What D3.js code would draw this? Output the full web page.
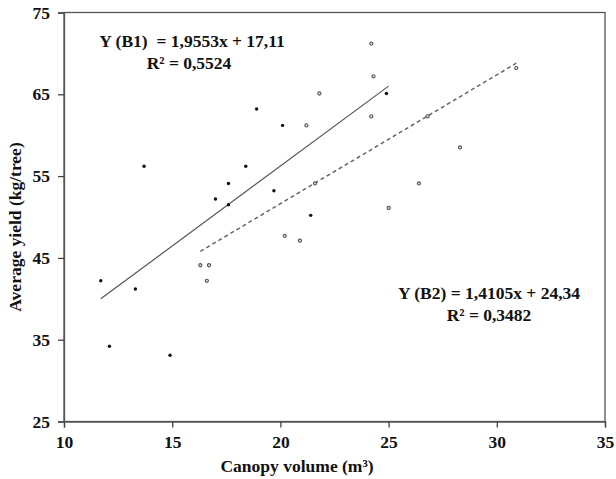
<!DOCTYPE html>
<html>
<head>
<meta charset="utf-8">
<script src="https://cdn.jsdelivr.net/npm/d3@7"></script>
<style>
  body { margin: 0; background: #fff; }
  text { font-family: "Liberation Serif", "Times New Roman", serif; font-weight: bold; fill: #111; }
</style>
</head>
<body>
<svg id="chart" width="616" height="479"></svg>
<script>
// B1 points (black dots)
const b1X = [11.7, 12.1, 13.3, 13.7, 14.9, 17.0, 17.6, 17.6, 18.4, 18.9, 19.7, 20.1, 21.4, 24.9];
const b1Y = [42.2, 34.2, 41.2, 56.2, 33.1, 52.2, 54.1, 51.5, 56.2, 63.2, 53.2, 61.2, 50.2, 65.1];
// B2 points (open circles)
const b2X = [16.3, 16.7, 16.6, 20.2, 20.9, 21.2, 21.6, 21.8, 24.2, 24.3, 24.2, 25.0, 26.4, 26.8, 28.3, 30.9];
const b2Y = [44.1, 44.1, 42.2, 47.7, 47.1, 61.2, 54.1, 65.1, 71.2, 67.2, 62.3, 51.1, 54.1, 62.3, 58.5, 68.2];
// trend lines as drawn (x range, y at ends)
const trendB1 = [[11.7, 40.0], [25.0, 66.0]];
const trendB2 = [[16.3, 45.8], [30.9, 68.8]];

const xTicks = [10, 15, 20, 25, 30, 35];
const yTicks = [25, 35, 45, 55, 65, 75];

const svg = d3.select("#chart");
const plotL = 64, plotR = 605, plotT = 12.5, plotB = 421.5;

const x = d3.scaleLinear().domain([10, 35]).range([plotL, plotR]);
const y = d3.scaleLinear().domain([25, 75]).range([plotB, plotT]);

// frame
svg.append("rect")
  .attr("x", plotL).attr("y", plotT)
  .attr("width", plotR - plotL).attr("height", plotB - plotT)
  .attr("fill", "none").attr("stroke", "#555").attr("stroke-width", 1.3);

const xAxis = svg.append("g")
  .attr("transform", `translate(0,${plotB})`)
  .call(d3.axisBottom(x).tickValues(xTicks).tickSize(6).tickPadding(8));
const yAxis = svg.append("g")
  .attr("transform", `translate(${plotL},0)`)
  .call(d3.axisLeft(y).tickValues(yTicks).tickSize(6).tickPadding(8));

[xAxis, yAxis].forEach(g => {
  g.select(".domain").attr("stroke", "#555").attr("stroke-width", 1.3);
  g.selectAll(".tick line").attr("stroke", "#444").attr("stroke-width", 1.3);
  g.selectAll(".tick text")
    .attr("font-family", "Liberation Serif, serif")
    .attr("font-weight", "bold")
    .attr("font-size", 17.5)
    .attr("fill", "#111");
});

// trend lines
const line = d3.line().x(d => x(d[0])).y(d => y(d[1]));
svg.append("path").attr("d", line(trendB1))
  .attr("fill", "none").attr("stroke", "#555").attr("stroke-width", 1.2);
svg.append("path").attr("d", line(trendB2))
  .attr("fill", "none").attr("stroke", "#666").attr("stroke-width", 1.5)
  .attr("stroke-dasharray", "4,3");

// points
svg.append("g").selectAll("circle")
  .data(d3.zip(b2X, b2Y)).join("circle")
  .attr("cx", d => x(d[0])).attr("cy", d => y(d[1]))
  .attr("r", 1.6).attr("fill", "#ddd").attr("stroke", "#555").attr("stroke-width", 1.1);
svg.append("g").selectAll("circle")
  .data(d3.zip(b1X, b1Y)).join("circle")
  .attr("cx", d => x(d[0])).attr("cy", d => y(d[1]))
  .attr("r", 1.7).attr("fill", "#111");

// equations
const eq = [
  { t: "Y (B1)  = 1,9553x + 17,11", cx: 192, by: 47 },
  { t: "R² = 0,5524", cx: 189, by: 68.5 },
  { t: "Y (B2) = 1,4105x + 24,34", cx: 489, by: 298.5 },
  { t: "R² = 0,3482", cx: 489, by: 320.5 }
];
svg.selectAll(".eq").data(eq).join("text")
  .attr("class", "eq")
  .attr("x", d => d.cx).attr("y", d => d.by)
  .attr("text-anchor", "middle")
  .attr("font-size", 17.5)
  .attr("xml:space", "preserve")
  .style("white-space", "pre")
  .text(d => d.t);

// axis titles
svg.append("text")
  .attr("x", 297).attr("y", 472)
  .attr("text-anchor", "middle").attr("font-size", 17.5)
  .text("Canopy volume (m³)");
svg.append("text")
  .attr("transform", `translate(21,${227}) rotate(-90)`)
  .attr("text-anchor", "middle").attr("font-size", 17.5)
  .text("Average yield (kg/tree)");
</script>
</body>
</html>
